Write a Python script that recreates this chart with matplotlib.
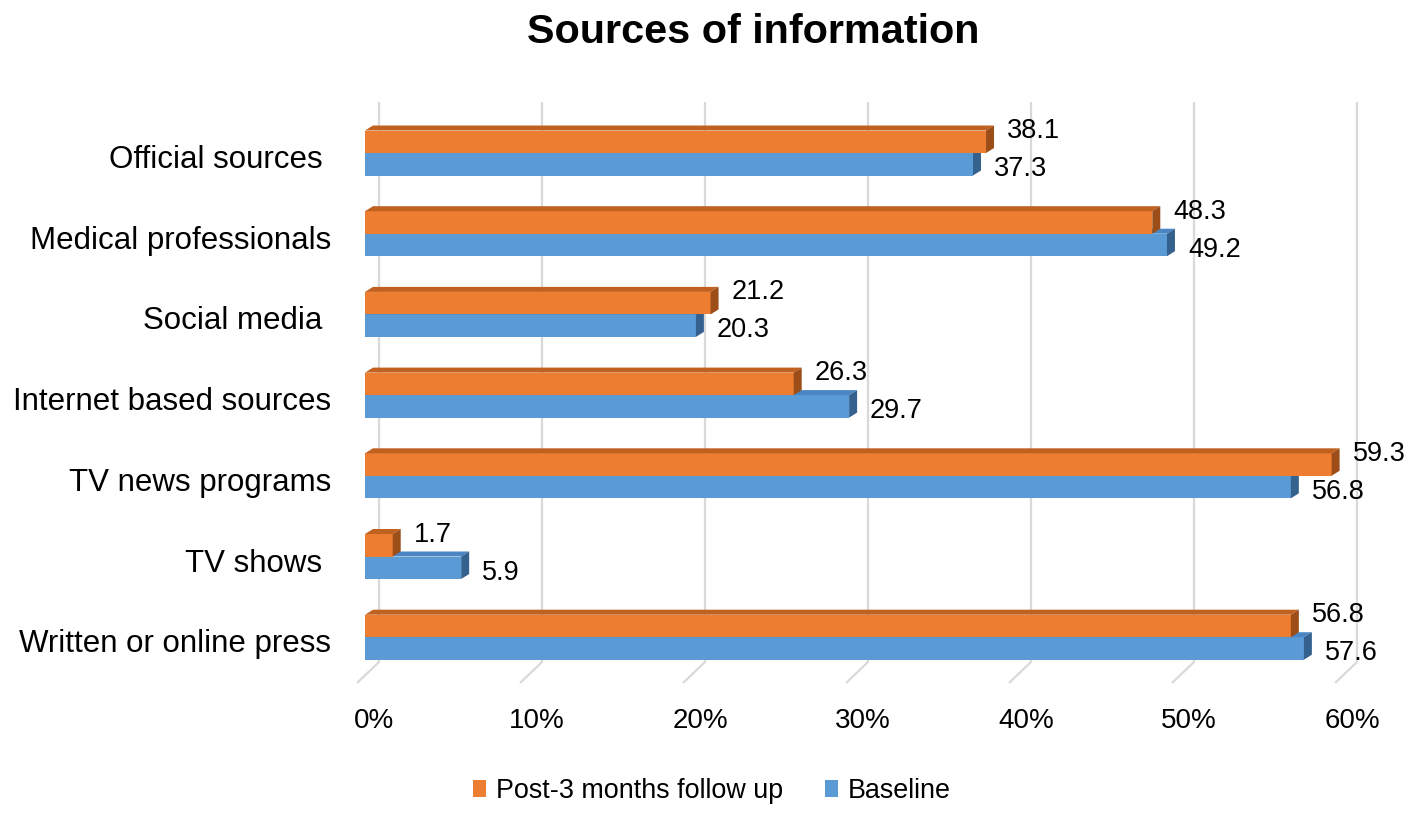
import numpy as np
import matplotlib.pyplot as plt
from matplotlib.patches import Polygon, Patch

plt.rcParams['font.family'] = ['Liberation Sans', 'DejaVu Sans']

categories = ['Official sources ', 'Medical professionals', 'Social media ',
              'Internet based sources', 'TV news programs', 'TV shows ',
              'Written or online press']
followup = [38.1, 48.3, 21.2, 26.3, 59.3, 1.7, 56.8]
baseline = [37.3, 49.2, 20.3, 29.7, 56.8, 5.9, 57.6]
ticks = [0, 10, 20, 30, 40, 50, 60]
tick_labels = ['0%', '10%', '20%', '30%', '40%', '50%', '60%']

W, H = 1417, 823
x0, sx = 365, 16.3          # pixel of 0% on the front plane, px per %
y0, sy = 153, 80.7          # pixel of first group boundary, px per group

fig = plt.figure(figsize=(W / 100, H / 100), dpi=100)
ax = fig.add_axes([0, 0, 1, 1])
ax.set_xlim(-x0 / sx, (W - x0) / sx)
ax.set_ylim((H - y0) / sy, -y0 / sy)
ax.axis('off')

def px(p):   # pixels -> x data units
    return p / sx

def py(p):   # pixels -> y data units
    return p / sy

bh = py(22.5)
ddx, ddy = px(8), -py(5)

# back wall gridlines and floor
gx = px(14)
g_top, g_bot, g_front = py(102 - y0), py(662 - y0), py(683 - y0)
for t in ticks:
    ax.plot([t + gx, t + gx, t + gx - px(22)], [g_top, g_bot, g_front],
            color='#d9d9d9', lw=1.6, zorder=1, solid_capstyle='butt')

def bar3d(v, top, face, topc, sidec):
    bot = top + bh
    ax.add_patch(Polygon([(0, top), (v, top), (v, bot), (0, bot)],
                         closed=True, fc=face, ec='none', zorder=3))
    ax.add_patch(Polygon([(0, top), (ddx, top + ddy), (v + ddx, top + ddy), (v, top)],
                         closed=True, fc=topc, ec='none', zorder=3))
    ax.add_patch(Polygon([(v, top), (v + ddx, top + ddy), (v + ddx, bot + ddy), (v, bot)],
                         closed=True, fc=sidec, ec='none', zorder=3))

for i, cat in enumerate(categories):
    bar3d(baseline[i], i, '#5b9bd5', '#4a86c3', '#35618e')
    bar3d(followup[i], i - bh, '#ed7d31', '#c1611f', '#9c4d18')
    ax.text(followup[i] + px(21), i - py(15), f'{followup[i]:.1f}',
            fontsize=19.5, ha='left', va='baseline', zorder=5)
    ax.text(baseline[i] + px(21), i + py(23), f'{baseline[i]:.1f}',
            fontsize=19.5, ha='left', va='baseline', zorder=5)
    ax.text(px(331 - x0), i + py(15), cat, fontsize=22.5,
            ha='right', va='baseline')

for t, lab in zip(ticks, tick_labels):
    ax.text(t + px(9), py(728 - y0), lab, fontsize=20, ha='center', va='baseline')

fig.text(753.5 / W, 1 - 43 / H, 'Sources of information', fontsize=29.8,
         fontweight='bold', ha='center', va='baseline')

handles = [Patch(fc='#ed7d31', ec='none'), Patch(fc='#5b9bd5', ec='none')]
fig.legend(handles, ['Post-3 months follow up', 'Baseline'], loc='center',
           bbox_to_anchor=(712 / W, 1 - 791 / H), ncol=2, frameon=False,
           fontsize=19.4, handlelength=0.48, handleheight=0.6,
           handletextpad=0.37, columnspacing=1.55)

plt.savefig('out.png', dpi=100)
